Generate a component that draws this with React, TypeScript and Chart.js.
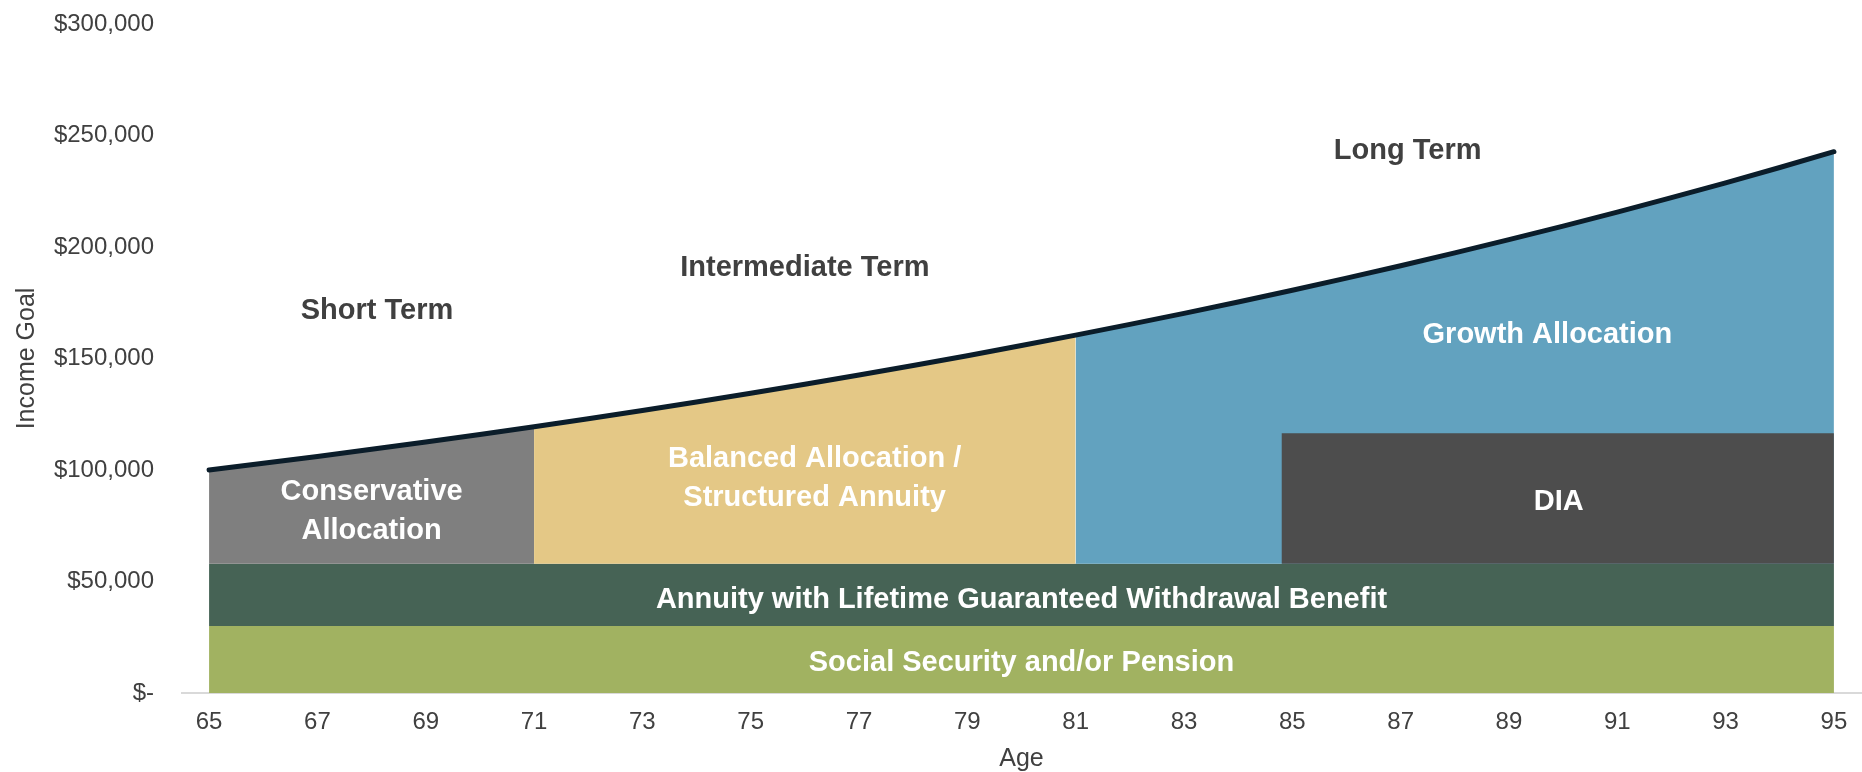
import React, { useEffect, useRef } from 'react';
import { Chart, registerables } from 'chart.js';

Chart.register(...registerables);

// ---- Data ----
const ages = [65, 66, 67, 68, 69, 70, 71, 72, 73, 74, 75, 76, 77, 78, 79, 80, 81, 82, 83, 84, 85, 86, 87, 88, 89, 90, 91, 92, 93, 94, 95];
const incomeGoal = [
  100000, 103000, 106090, 109273, 112551, 115927, 119405, 122987, 126677, 130477,
  134392, 138423, 142576, 146853, 151259, 155797, 160471, 165285, 170243, 175351,
  180611, 186029, 191610, 197359, 203279, 209378, 215659, 222129, 228793, 235657, 242726,
];
const socialSecurityTop = 30000;
const glwbTop = 58000;
const diaTop = 116500;
const diaStartAge = 84.8;
const conservativeRange = [65, 71];
const balancedRange = [71, 81];
const growthRange = [81, 95];
const xTickAges = [65, 67, 69, 71, 73, 75, 77, 79, 81, 83, 85, 87, 89, 91, 93, 95];
const yTickValues = [0, 50000, 100000, 150000, 200000, 250000, 300000];

// ---- Text annotations (anchored in data space) ----
const regionLabels = [
  { lines: ['Short Term'], age: 68.1, value: 172400, color: '#404040', gap: 0 },
  { lines: ['Intermediate Term'], age: 76, value: 191700, color: '#404040', gap: 0 },
  { lines: ['Long Term'], age: 87.13, value: 244300, color: '#404040', gap: 0 },
  { lines: ['Conservative', 'Allocation'], age: 68, value: 82400, color: '#ffffff', gap: 39 },
  { lines: ['Balanced Allocation /', 'Structured Annuity'], age: 76.18, value: 97300, color: '#ffffff', gap: 38.5 },
  { lines: ['Growth Allocation'], age: 89.71, value: 161400, color: '#ffffff', gap: 0 },
  { lines: ['DIA'], age: 89.92, value: 86800, color: '#ffffff', gap: 0 },
  { lines: ['Annuity with Lifetime Guaranteed Withdrawal Benefit'], age: 80, value: 42800, color: '#ffffff', gap: 0 },
  { lines: ['Social Security and/or Pension'], age: 80, value: 14600, color: '#ffffff', gap: 0 },
];

const FONT = '"Liberation Sans", Arial, Helvetica, sans-serif';
const TEXT_GRAY = '#404040';
const LABEL_SIZE = 29;

const inRange = (r: number[]) =>
  ages
    .map((a, i) => ({ x: a, y: incomeGoal[i] }))
    .filter((p) => p.x >= r[0] && p.x <= r[1]);

const regionLabelPlugin = {
  id: 'regionLabels',
  afterDatasetsDraw(chart: any) {
    const { ctx, scales } = chart;
    const xs = scales.x;
    const ys = scales.y;
    const capHalf = (0.716 * LABEL_SIZE) / 2;
    ctx.save();
    ctx.font = `bold ${LABEL_SIZE}px ${FONT}`;
    ctx.textAlign = 'center';
    ctx.textBaseline = 'alphabetic';
    for (const l of regionLabels) {
      const cx = xs.getPixelForValue(l.age);
      const cy = ys.getPixelForValue(l.value);
      const n = l.lines.length;
      ctx.fillStyle = l.color;
      l.lines.forEach((t, i) => {
        const c = cy + (i - (n - 1) / 2) * l.gap;
        ctx.fillText(t, cx, c + capHalf);
      });
    }
    ctx.restore();
  },
};

const fillDs = (label: string, data: any[], color: string, fillValue: number, order: number) => ({
  label,
  data,
  backgroundColor: color,
  borderColor: 'rgba(0,0,0,0)',
  borderWidth: 0,
  pointRadius: 0,
  pointHoverRadius: 0,
  tension: 0,
  fill: { value: fillValue },
  order,
});

export default function App() {
  const canvasRef = useRef<HTMLCanvasElement | null>(null);

  useEffect(() => {
    document.body.style.margin = '0';
    const canvas = canvasRef.current;
    if (!canvas) return;

    const chart = new Chart(canvas, {
      type: 'line',
      data: {
        datasets: [
          {
            label: 'Income Goal',
            data: ages.map((a, i) => ({ x: a, y: incomeGoal[i] })),
            borderColor: '#0b1d2a',
            borderWidth: 5,
            borderCapStyle: 'round',
            borderJoinStyle: 'round',
            pointRadius: 0,
            pointHoverRadius: 0,
            tension: 0,
            fill: false,
            order: 0,
          } as any,
          fillDs('DIA', [{ x: diaStartAge, y: diaTop }, { x: 95, y: diaTop }], '#4d4d4d', glwbTop, 1),
          fillDs('Growth Allocation', inRange(growthRange), '#62a2bf', glwbTop, 2),
          fillDs('Balanced Allocation / Structured Annuity', inRange(balancedRange), '#e4c886', glwbTop, 2),
          fillDs('Conservative Allocation', inRange(conservativeRange), '#7f7f7f', glwbTop, 2),
          fillDs(
            'Annuity with Lifetime Guaranteed Withdrawal Benefit',
            ages.map((a) => ({ x: a, y: glwbTop })),
            '#466355',
            socialSecurityTop,
            3
          ),
          fillDs(
            'Social Security and/or Pension',
            ages.map((a) => ({ x: a, y: socialSecurityTop })),
            '#a1b261',
            0,
            3
          ),
        ],
      },
      options: {
        responsive: false,
        animation: false,
        events: [],
        layout: { padding: { top: 24, right: 1, bottom: 0, left: 0 } },
        plugins: {
          legend: { display: false },
          tooltip: { enabled: false },
          title: { display: false },
        },
        scales: {
          x: {
            type: 'linear',
            min: 64.5,
            max: 95.5,
            afterBuildTicks: (s: any) => {
              s.ticks = xTickAges.map((v) => ({ value: v }));
            },
            afterFit: (s: any) => {
              s.height = 79;
              s.paddingLeft = 0;
              s.paddingRight = 0;
            },
            ticks: {
              color: TEXT_GRAY,
              font: { family: FONT, size: 24 },
              padding: 15,
              autoSkip: false,
              maxRotation: 0,
              callback: (v: any) => String(v),
            },
            grid: { display: false, drawTicks: false },
            border: { display: true, color: '#d9d9d9', width: 2 },
            title: {
              display: true,
              text: 'Age',
              color: TEXT_GRAY,
              font: { family: FONT, size: 25, lineHeight: 1.0 },
              padding: { top: 0, bottom: 0 },
            },
          },
          y: {
            type: 'linear',
            min: 0,
            max: 300000,
            afterBuildTicks: (s: any) => {
              s.ticks = yTickValues.map((v) => ({ value: v }));
            },
            afterFit: (s: any) => {
              s.width = 182;
              s.paddingTop = 0;
              s.paddingBottom = 0;
            },
            ticks: {
              color: TEXT_GRAY,
              font: { family: FONT, size: 24 },
              padding: 28,
              callback: (v: any) => (Number(v) === 0 ? '$-' : '$' + Number(v).toLocaleString('en-US')),
            },
            grid: { display: false, drawTicks: false },
            border: { display: false },
            title: {
              display: true,
              text: 'Income Goal',
              color: TEXT_GRAY,
              font: { family: FONT, size: 25 },
              padding: { top: 12.5, bottom: 0 },
            },
          },
        },
      } as any,
      plugins: [regionLabelPlugin],
    });

    return () => {
      chart.destroy();
    };
  }, []);

  return (
    <div style={{ position: 'absolute', left: 0, top: 0, width: 1862, height: 772 }}>
      <canvas ref={canvasRef} width={1862} height={772} style={{ display: 'block', width: 1862, height: 772 }} />
    </div>
  );
}
